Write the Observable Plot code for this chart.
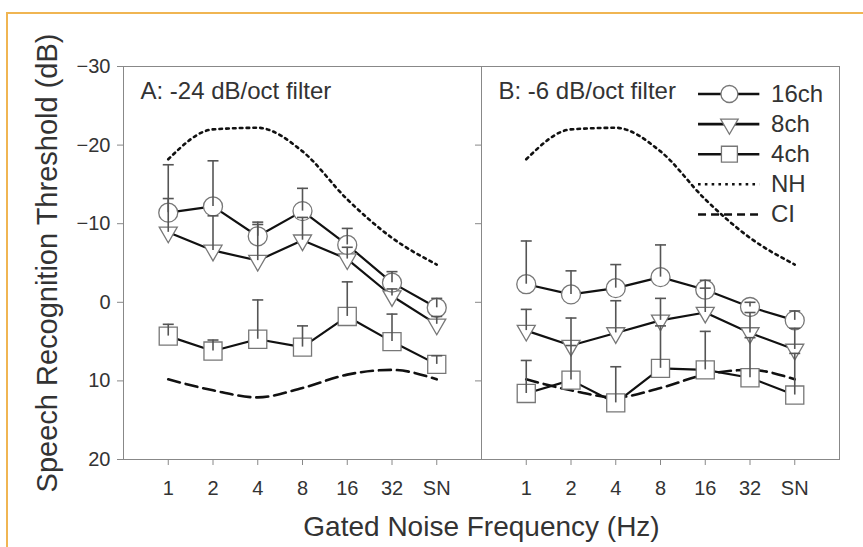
<!DOCTYPE html>
<html>
<head>
<meta charset="utf-8">
<script src="https://cdn.jsdelivr.net/npm/d3@7"></script>
<script src="https://cdn.jsdelivr.net/npm/@observablehq/plot@0.6"></script>
<style>
html, body { margin: 0; padding: 0; background: #fff; overflow: hidden; }
#wrap { position: relative; width: 863px; height: 547px; overflow: hidden; background: #fff; }
#wrap svg { position: absolute; left: 0; top: 0; }
#border { position: absolute; left: 6px; top: 12px; right: -20px; bottom: -20px;
  border-top: 2px solid #f0b552; border-left: 2px solid #f0b552; pointer-events: none; }
</style>
</head>
<body>
<div id="wrap"><div id="border"></div></div>
<script>
// ---- data ----
const freqs = ["1", "2", "4", "8", "16", "32", "SN"];
const panels = ["A", "B"];
const panelLabels = ["A: -24 dB/oct filter", "B: -6 dB/oct filter"];
const yTicks = [-30, -20, -10, 0, 10, 20];
const seriesNames = ["16ch", "8ch", "4ch", "NH", "CI"];

// Panel A (-24 dB/oct)
const ch16A    = [-11.4, -12.2, -8.4, -11.6, -7.3, -2.5, 0.7];
const ch16AErr = [-17.5, -18.0, -10.2, -14.5, -9.4, -3.9, -0.5];
const ch8A     = [-8.9, -6.6, -5.3, -7.9, -5.5, -0.8, 2.8];
const ch8AErr  = [-13.2, -11.0, -9.9, -10.8, -7.0, -1.7, 1.8];
const ch4A     = [4.3, 6.2, 4.7, 5.7, 1.8, 5.0, 7.9];
const ch4AErr  = [2.8, 4.8, -0.3, 3.0, -2.6, 1.5, 6.8];

// Panel B (-6 dB/oct)
const ch16B    = [-2.3, -1.0, -1.8, -3.2, -1.6, 0.6, 2.3];
const ch16BErr = [-7.8, -4.0, -4.8, -7.3, -2.8, 0.0, 1.1];
const ch8B     = [3.6, 5.5, 3.9, 2.3, 1.3, 3.9, 6.0];
const ch8BErr  = [0.9, 2.0, -0.2, -0.5, -1.8, 1.3, 3.3];
const ch4B     = [11.6, 9.9, 12.8, 8.4, 8.6, 9.6, 11.8];
const ch4BErr  = [7.4, 5.5, 8.2, 3.0, 3.7, 4.5, 6.5];

// reference curves (same in both panels)
const NH = [-18.2, -22.0, -22.2, -19.2, -13.1, -8.2, -4.8];
const CI = [9.8, 11.2, 12.1, 10.9, 9.2, 8.6, 9.8];

// ---- build tables ----
function rowsOf(panel, series, vals, errs) {
  return vals.map((v, i) => ({panel, series, i, v, err: errs ? errs[i] : null}));
}
const chRows = {
  "16ch": [...rowsOf("A", "16ch", ch16A, ch16AErr), ...rowsOf("B", "16ch", ch16B, ch16BErr)],
  "8ch":  [...rowsOf("A", "8ch", ch8A, ch8AErr),   ...rowsOf("B", "8ch", ch8B, ch8BErr)],
  "4ch":  [...rowsOf("A", "4ch", ch4A, ch4AErr),   ...rowsOf("B", "4ch", ch4B, ch4BErr)]
};
const nhRows = [...rowsOf("A", "NH", NH), ...rowsOf("B", "NH", NH)];
const ciRows = [...rowsOf("A", "CI", CI), ...rowsOf("B", "CI", CI)];
const errRows = [...chRows["16ch"], ...chRows["8ch"], ...chRows["4ch"]];
const labelRows = panels.map((p, k) => ({panel: p, text: panelLabels[k]}));

// ---- symbols ----
const triDown = {
  draw(ctx, size) {
    const y = Math.sqrt(size / (Math.sqrt(3) * 3));
    const x = Math.sqrt(3) * y;
    ctx.moveTo(0, 2 * y); ctx.lineTo(-x, -y); ctx.lineTo(x, -y); ctx.closePath();
  }
};
const capSym = { draw(ctx) { ctx.moveTo(-5.5, 0); ctx.lineTo(5.5, 0); } };
const sym = {"16ch": "circle", "8ch": triDown, "4ch": "square"};
const rad = {"16ch": 9.5, "8ch": 6.7, "4ch": 10.2};
const legR = {"16ch": 8.5, "8ch": 6.5, "4ch": 9};

// legend layout (in data units of panel B)
const LEG_Y0 = -26.5, LEG_DY = 3.83;
const LEG_X1 = 3.85, LEG_X2 = 5.22, LEG_XM = 4.54, LEG_XT = 5.47;
const legRows = seriesNames.map((s, k) => ({series: s, y: LEG_Y0 + k * LEG_DY}));
// panel B left-edge tick length in x units (6px of a 44.75px step)
const X_EDGE = -1, B_TICK = 6 / 44.75;

const LINE = "#111", MARK = "#777", ERR = "#555", AXIS = "#888", TEXT = "#333";
const DOTS = "2.6,4.2", DASH = "12,6";

const marks = [
  Plot.frame({stroke: AXIS}),
  Plot.axisY({ticks: yTicks, tickSize: 6, tickPadding: 7, fontSize: 20, stroke: AXIS, fill: TEXT, label: null}),
  // unlabelled y ticks on the left edge of panel B
  Plot.ruleY(yTicks, {y: d => d, x1: () => X_EDGE - B_TICK, x2: () => X_EDGE, fx: () => "B", stroke: AXIS, strokeWidth: 1}),
  Plot.axisX({ticks: d3.range(freqs.length), tickFormat: i => freqs[i], tickSize: 6, tickPadding: 15,
    fontSize: 20, stroke: AXIS, fill: TEXT, label: null}),
  Plot.line(nhRows, {x: "i", y: "v", fx: "panel", curve: "monotone-x", stroke: LINE, strokeWidth: 2.6, strokeDasharray: DOTS}),
  Plot.line(ciRows, {x: "i", y: "v", fx: "panel", curve: "monotone-x", stroke: LINE, strokeWidth: 2.6, strokeDasharray: DASH})
];
for (const s of ["4ch", "8ch", "16ch"]) {
  marks.push(Plot.line(chRows[s], {x: "i", y: "v", fx: "panel", stroke: LINE, strokeWidth: 2.2}));
}
for (const s of ["4ch", "8ch", "16ch"]) {
  marks.push(Plot.dot(chRows[s], {x: "i", y: "v", fx: "panel", symbol: sym[s], r: rad[s], fill: "white", stroke: MARK, strokeWidth: 1.3}));
}
marks.push(
  Plot.ruleX(errRows, {x: "i", y1: "v", y2: "err", fx: "panel", stroke: ERR, strokeWidth: 1.6}),
  Plot.dot(errRows, {x: "i", y: "err", fx: "panel", symbol: capSym, r: 5, fill: "none", stroke: ERR, strokeWidth: 1.6})
);
// panel labels
marks.push(Plot.text(labelRows, {fx: "panel", text: "text", frameAnchor: "top-left", dx: 17, dy: 25,
  textAnchor: "start", lineAnchor: "middle", fontSize: 24, fill: TEXT}));
// legend
const legLines = legRows.filter(d => ["16ch", "8ch", "4ch"].includes(d.series));
marks.push(
  Plot.ruleY(legLines, {y: "y", x1: () => LEG_X1, x2: () => LEG_X2, fx: () => "B", stroke: LINE, strokeWidth: 2.6}),
  Plot.ruleY(legRows.filter(d => d.series === "NH"), {y: "y", x1: () => LEG_X1, x2: () => LEG_X2, fx: () => "B", stroke: LINE, strokeWidth: 2.6, strokeDasharray: DOTS}),
  Plot.ruleY(legRows.filter(d => d.series === "CI"), {y: "y", x1: () => LEG_X1, x2: () => LEG_X2, fx: () => "B", stroke: LINE, strokeWidth: 2.6, strokeDasharray: "8,5"})
);
for (const s of ["16ch", "8ch", "4ch"]) {
  marks.push(Plot.dot(legRows.filter(d => d.series === s), {x: () => LEG_XM, y: "y", fx: () => "B",
    symbol: sym[s], r: legR[s], fill: "white", stroke: MARK, strokeWidth: 1.3}));
}
marks.push(Plot.text(legRows, {x: () => LEG_XT, y: "y", fx: () => "B", text: "series", textAnchor: "start",
  lineAnchor: "middle", fontSize: 24, fill: TEXT}));
// axis titles
marks.push(
  Plot.text(["Speech Recognition Threshold (dB)"], {fx: () => "A", frameAnchor: "left", rotate: -90, dx: -76,
    textAnchor: "middle", lineAnchor: "middle", fontSize: 29, fill: TEXT}),
  Plot.text(["Gated Noise Frequency (Hz)"], {fx: () => "A", frameAnchor: "bottom-right", dy: 68,
    textAnchor: "middle", lineAnchor: "middle", fontSize: 28, fill: TEXT})
);

const chart = Plot.plot({
  width: 863, height: 547,
  marginTop: 66, marginBottom: 88, marginLeft: 123, marginRight: 24,
  style: {fontFamily: "'Liberation Sans', Arial, sans-serif", background: "transparent", color: TEXT, overflow: "visible"},
  fx: {domain: panels, padding: 0, axis: null, label: null},
  x: {domain: [-1, 7], axis: null},
  y: {domain: [-30, 20], reverse: true, axis: null},
  marks
});
document.getElementById("wrap").insertBefore(chart, document.getElementById("border"));
</script>
</body>
</html>
